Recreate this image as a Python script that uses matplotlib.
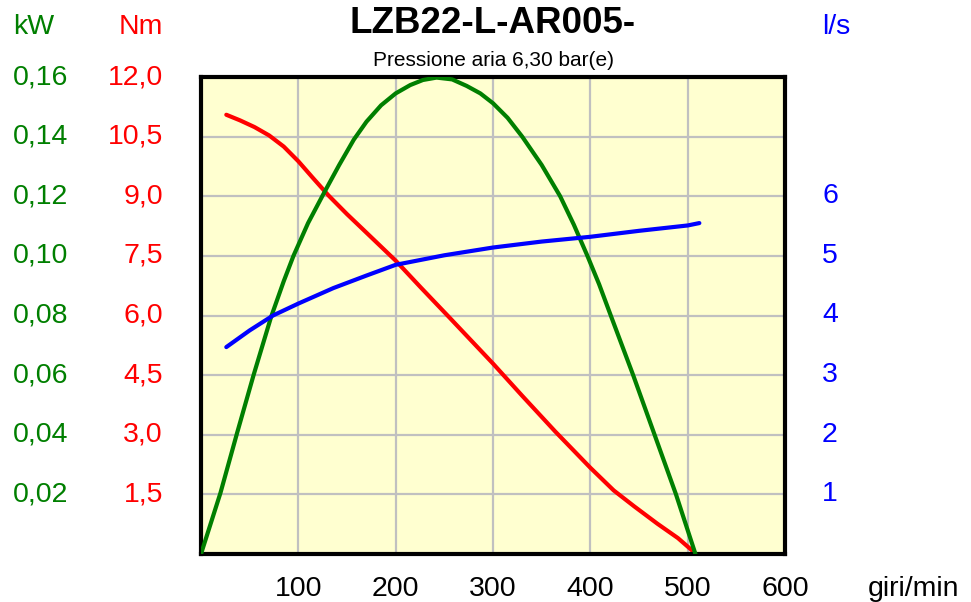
import matplotlib.pyplot as plt
import matplotlib.transforms as mtransforms

plt.rcParams['font.family'] = ['Liberation Sans', 'DejaVu Sans']

# ===================== 数据 =====================
# 扭矩 Nm (红)
rpm_torque = [26, 40, 55, 70, 85, 100, 115, 131, 150, 165, 200, 226, 256, 300, 330, 364, 400,
              424, 445, 469, 490, 505]
torque = [11.05, 10.91, 10.74, 10.53, 10.25, 9.88, 9.46, 9.02, 8.55, 8.20, 7.38, 6.70, 5.93,
          4.79, 3.98, 3.08, 2.17, 1.60, 1.20, 0.76, 0.40, 0.08]

# 功率 kW (绿)
rpm_power = [0, 20, 37, 54, 72, 85, 95, 110, 127, 142, 157, 170, 185, 200, 215, 228, 242,
             258, 273, 287, 300, 315, 330, 350, 369, 383, 397, 409, 421, 444, 466, 488, 508]
power = [0.0, 0.0205, 0.0405, 0.0600, 0.0795, 0.0915, 0.1000, 0.1110, 0.1215, 0.1305, 0.1390,
         0.1450, 0.1505, 0.1545, 0.1573, 0.1590, 0.1598, 0.1592, 0.1570, 0.1545, 0.1512, 0.1463,
         0.1400, 0.1305, 0.1200, 0.1105, 0.1000, 0.0905, 0.0800, 0.0600, 0.0400, 0.0200, 0.0]

# 耗气量 l/s (蓝)
rpm_flow = [26, 50, 74, 100, 136, 170, 200, 250, 300, 350, 400, 450, 500, 512]
flow = [3.47, 3.75, 4.0, 4.2, 4.46, 4.67, 4.85, 5.01, 5.14, 5.24, 5.32, 5.42, 5.51, 5.55]

x_ticks = [100, 200, 300, 400, 500, 600]
torque_ticks = [1.5, 3.0, 4.5, 6.0, 7.5, 9.0, 10.5, 12.0]
power_ticks = [0.02, 0.04, 0.06, 0.08, 0.10, 0.12, 0.14, 0.16]
flow_ticks = [1, 2, 3, 4, 5, 6]

title = "LZB22-L-AR005-"
subtitle = "Pressione aria 6,30 bar(e)"

GREEN = '#007f00'
RED = '#ff0000'
BLUE = '#0000ff'
FS = 20.5

# ===================== 绘图 =====================
fig = plt.figure(figsize=(9.71, 6.02), dpi=100)
ax = fig.add_axes([201 / 971, 48 / 602, 584 / 971, 477 / 602])
ax.set_facecolor('#ffffd0')
ax.set_xlim(0, 600)
ax.set_ylim(0, 12)

ax_p = ax.twinx()
ax_p.set_ylim(0, 0.16)
ax_f = ax.twinx()
ax_f.set_ylim(0, 8)
for a in (ax_p, ax_f):
    a.axis('off')

# 网格
ax.set_xticks(x_ticks)
ax.set_yticks(torque_ticks)
ax.grid(True, color='#c0c0c0', linewidth=1.6)
ax.tick_params(length=0, labelbottom=False, labelleft=False)
for s in ax.spines.values():
    s.set_linewidth(3)
    s.set_color('black')
    s.set_zorder(10)

kw = dict(lw=3, solid_capstyle='round', solid_joinstyle='round')
ax.plot(rpm_torque, torque, color=RED, **kw)
ax_p.plot(rpm_power, power, color=GREEN, **kw)
ax_f.plot(rpm_flow, flow, color=BLUE, **kw)

# 刻度标签
tr_p = mtransforms.blended_transform_factory(fig.transFigure, ax_p.transData)
tr_t = mtransforms.blended_transform_factory(fig.transFigure, ax.transData)
tr_f = mtransforms.blended_transform_factory(fig.transFigure, ax_f.transData)
for v in power_ticks:
    fig.text(13 / 971, v, f"{v:.2f}".replace('.', ','), color=GREEN, fontsize=FS,
             ha='left', va='center', transform=tr_p)
for v in torque_ticks:
    fig.text(163 / 971, v, f"{v:.1f}".replace('.', ','), color=RED, fontsize=FS,
             ha='right', va='center', transform=tr_t)
for v in flow_ticks:
    fig.text(822 / 971, v, f"{v}", color=BLUE, fontsize=FS,
             ha='left', va='center', transform=tr_f)

tr_x = mtransforms.blended_transform_factory(ax.transData, fig.transFigure)
for v in x_ticks:
    fig.text(v, 1 - 596 / 602, f"{v}", fontsize=FS, ha='center', va='baseline', transform=tr_x)
fig.text(868 / 971, 1 - 596 / 602, "giri/min", fontsize=FS, ha='left', va='baseline')

# 单位
fig.text(13 / 971, 1 - 34 / 602, "kW", color=GREEN, fontsize=FS, ha='left', va='baseline')
fig.text(163 / 971, 1 - 34 / 602, "Nm", color=RED, fontsize=FS, ha='right', va='baseline')
fig.text(822 / 971, 1 - 34 / 602, "l/s", color=BLUE, fontsize=FS, ha='left', va='baseline')

# 标题
fig.text(493 / 971, 1 - 33 / 602, title, fontsize=26.5, fontweight='bold', ha='center', va='baseline')
fig.text(493 / 971, 1 - 66 / 602, subtitle, fontsize=15, ha='center', va='baseline')

fig.savefig("out.png", dpi=100)
